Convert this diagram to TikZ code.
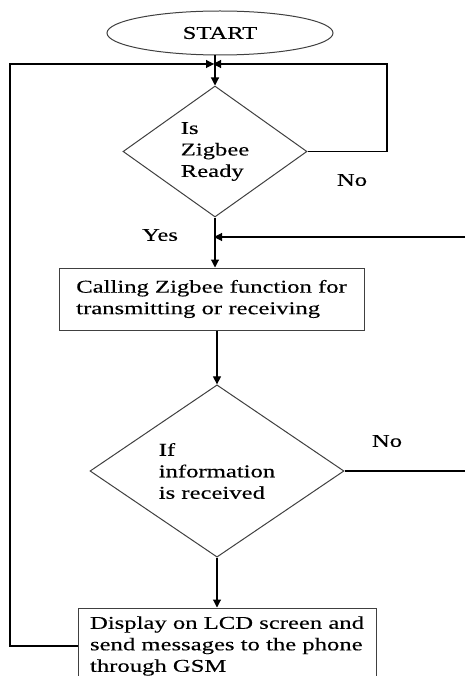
\documentclass[tikz,border=0pt]{standalone}
\usepackage{fontspec}
\setmainfont{Liberation Serif}[FakeStretch=1.37,FakeBold=0.25]
\usetikzlibrary{shapes.geometric,arrows.meta}
\begin{document}
\begin{tikzpicture}[x=1pt,y=-1pt,
  every node/.style={font=\fontsize{18}{21.5}\selectfont},
  shapeline/.style={draw=black!75,line width=1pt},
  conn/.style={draw=black,line width=1.1pt},
  arr/.style={conn,-{Triangle[length=8pt,width=8pt]}},
  dia/.style={shapeline,diamond,inner sep=0pt,align=left},
  boxnode/.style={shapeline,rectangle,inner sep=0pt,align=left},
  lbl/.style={inner sep=0pt}]
\useasboundingbox (0,0) rectangle (465,676);
\clip (0,0) rectangle (465,676);
\fill[white] (0,0) rectangle (465,676);

\node[shapeline,ellipse,minimum width=226pt,minimum height=44pt,inner sep=0pt] (start) at (220,33) {START};
\node[dia,minimum width=184pt,minimum height=131pt] (d1) at (215,151.5) {Is\\Zigbee\\Ready};
\node[boxnode,minimum width=305pt,minimum height=62pt] (b1) at (211.5,299) {Calling Zigbee function for\\transmitting or receiving};
\node[dia,minimum width=254pt,minimum height=156pt] (d2) at (217,471) {If\\information\\is received};
\node[boxnode,minimum width=298pt,minimum height=76pt] (b2) at (227,646) {Display on LCD screen and\\send messages to the phone\\through GSM};

\node[lbl] (no1) at (352,180) {No};
\node[lbl] (yes) at (160,235) {Yes};
\node[lbl] (no2) at (387,441) {No};

\coordinate (j1) at (216,64);
\coordinate (ltop) at (10,64);
\coordinate (rtop) at (387,64);
\coordinate (rin) at (465,237);
\coordinate (rout) at (465,471);

\draw[arr] (start.south -| d1.north) -- (d1.north);
\draw[arr,shorten >=2pt] (b2.west) -| (ltop) -- (j1);
\draw[arr,shorten >=-3pt] (d1.east) -| (rtop) -- (j1);
\draw[arr] (d1.south) -- (d1.south |- b1.north);
\draw[arr,shorten >=-1pt] (rin) -- (d1.south |- rin);
\draw[arr] (b1.south -| d2.north) -- (d2.north);
\draw[conn] (d2.east) -- (rout);
\draw[arr] (d2.south) -- (d2.south |- b2.north);
\end{tikzpicture}
\end{document}
